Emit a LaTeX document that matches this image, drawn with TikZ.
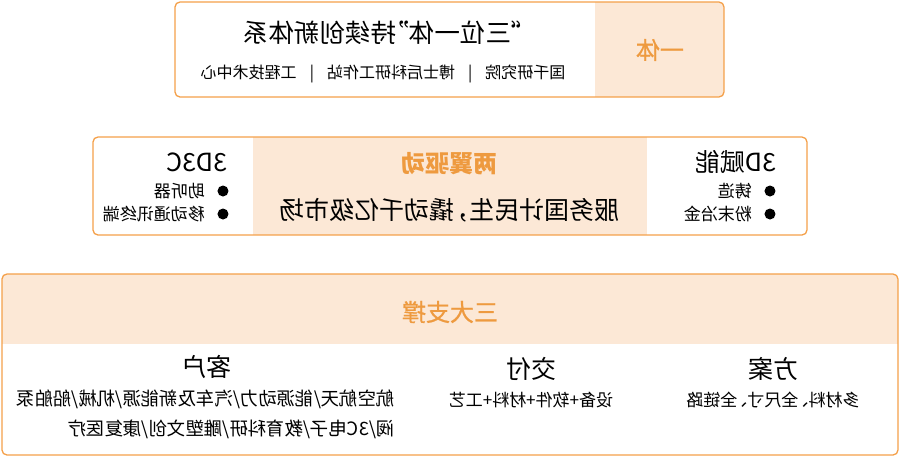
\documentclass[tikz,border=0pt]{standalone}
\usepackage{fontspec}
\newfontfamily\cjk{Noto Sans CJK SC}
\newfontfamily\cjkmid[FakeBold=0.8]{Noto Sans CJK SC}
\definecolor{edge}{HTML}{F4A049}
\definecolor{peach}{HTML}{FCE8D6}
\definecolor{accent}{HTML}{EE9A3F}
\newcommand{\fsz}[1]{\fontsize{#1}{#1}\selectfont}
\tikzset{
  panel/.style={draw=edge, line width=1.3pt, rounded corners=5pt},
  head/.style={font=\cjkmid\fsz{24}, text=accent},
  big/.style={font=\cjk\fsz{25}},
  item/.style={font=\cjk\fsz{17}},
  dot/.style={fill=black}
}
\begin{document}
\begin{tikzpicture}[x=1pt,y=1pt,xscale=-1,every node/.append style={transform shape,inner sep=0pt}]
        \useasboundingbox (0,0) rectangle (900,-456);

        % top: yi ti
        \begin{scope}
            \clip[rounded corners=5pt] (176,-2) rectangle (725,-97);
            \fill[peach] (176,-2) rectangle (305,-97);
        \end{scope}
        \draw[panel] (176,-2) rectangle (725,-97);
        \node[head] (yiti) at (240,-50) {一体};
        \node[big, font=\cjk\fsz{25.5}] (title) at (510,-33) {“三位一体”\kern-0.5em 持续创新体系};
        \node[font=\cjk\fsz{16}] (org) at (517,-74) {国千研究院\hspace{13pt}|\hspace{13pt}博士后科研工作站\hspace{13pt}|\hspace{13pt}工程技术中心};

        % middle: liang yi
        \begin{scope}
            \clip[rounded corners=5pt] (93,-137) rectangle (807,-235);
            \fill[peach] (253,-137) rectangle (647,-235);
        \end{scope}
        \draw[panel] (93,-137) rectangle (807,-235);
        \node[head, font=\cjk\bfseries\fsz{24}] (wings) at (450,-164) {两翼驱动};
        \node[big] (market) at (450,-210) {服务国计民生，\kern-0.4em 撬动千亿级市场};

        \node[big, anchor=west] (fuN) at (123,-162) {3D赋能};
        \foreach \y/\t [count=\i] in {191/铸造, 214/粉末冶金} {
            \fill[dot] (130,-\y) circle (5.5);
            \node[item, anchor=west] (fu\i) at (148,-\y) {\t};
        }
        \node[big, anchor=west] (tdc) at (672,-162) {3D3C};
        \foreach \y/\t [count=\i] in {191/助听器, 214/移动通讯终端} {
            \fill[dot] (677,-\y) circle (5.5);
            \node[item, anchor=west] (tc\i) at (695,-\y) {\t};
        }

        % bottom: san da zhi cheng
        \begin{scope}
            \clip[rounded corners=5pt] (2,-274) rectangle (898,-455);
            \fill[peach] (2,-274) rectangle (898,-344);
        \end{scope}
        \draw[panel] (2,-274) rectangle (898,-455);
        \node[head] (pillars) at (450,-312) {三大支撑};

        \node[big] (plan) at (126,-369) {方案};
        \node[item] (planT) at (127,-400) {多材料、\kern-0.4em 全尺寸、\kern-0.4em 全链路};
        \node[big] (deliv) at (368,-369) {交付};
        \node[item] (delivT) at (369,-400) {设备+软件+材料+工艺};
        \node[big] (client) at (693,-367) {客户};
        \node[item, font=\cjk\fsz{18.4}, anchor=west] (clientA) at (505,-399) {航空航天/能源动力/汽车及新能源/机械/船舶泵};
        \node[item, font=\cjk\fsz{18.4}, anchor=west] (clientB) at (505,-429) {阀/3C电子/教育科研/雕塑文创/康复医疗};

\end{tikzpicture}
\end{document}
